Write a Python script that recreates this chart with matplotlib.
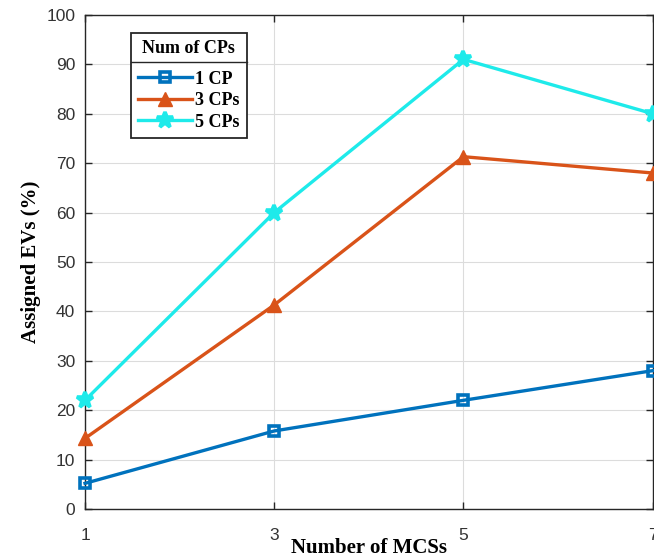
import matplotlib.pyplot as plt
from matplotlib.lines import Line2D

mcs = [1, 3, 5, 7]
cp1 = [5.2, 15.8, 22.0, 28.0]
cp3 = [14.3, 41.3, 71.3, 68.0]
cp5 = [22.0, 60.0, 91.0, 80.0]
labels = ["1 CP", "3 CPs", "5 CPs"]

fig = plt.figure(figsize=(6.54, 5.59), dpi=100)
ax = fig.add_axes([0.13, 0.0894, 0.868, 0.884])

ax.plot(mcs, cp1, color="#0072BD", lw=2.4, marker="s", ms=7, mfc="none", mew=2.6,
        label=labels[0], clip_on=False, zorder=3)
ax.plot(mcs, cp3, color="#D95319", lw=2.4, marker="^", ms=10, mfc="#D95319",
        label=labels[1], clip_on=False, zorder=3)
ax.plot(mcs, cp5, color="#1EEAEA", lw=2.4, marker="*", ms=12, mew=2.6,
        label=labels[2], clip_on=False, zorder=3)

ax.set_xlim(1, 7)
ax.set_ylim(0, 100)
ax.set_xticks(mcs)
ax.set_yticks(range(0, 101, 10))
ax.grid(True, color="#dcdcdc", lw=0.8)
ax.set_axisbelow(True)
ax.tick_params(direction="in", top=True, right=True, length=5, width=1,
               colors="#262626", labelsize=12.5)
ax.tick_params(axis="x", pad=14)
ax.tick_params(axis="y", pad=7)
for s in ax.spines.values():
    s.set_color("#262626")
    s.set_linewidth(1.0)
for t in ax.get_xticklabels() + ax.get_yticklabels():
    t.set_fontfamily("Liberation Sans")
    t.set_color("#333333")

ax.set_xlabel("Number of MCSs", fontfamily="Liberation Serif", fontweight="bold",
              fontsize=15, labelpad=-4)
ax.set_ylabel("Assigned EVs (%)", fontfamily="Liberation Serif", fontweight="bold",
              fontsize=15, labelpad=4)

leg = ax.legend(title="Num of CPs", loc="upper left", bbox_to_anchor=(0.081, 0.964),
                fancybox=False, edgecolor="#262626", framealpha=1,
                prop={"family": "Liberation Serif", "weight": "bold", "size": 13},
                title_fontproperties={"family": "Liberation Serif", "weight": "bold", "size": 13},
                handlelength=3.0, handletextpad=0.15, labelspacing=0.25,
                borderpad=0.4, borderaxespad=0)
leg.get_frame().set_linewidth(1.3)
leg._legend_box.sep = 10

# separator line under the legend title
fig.canvas.draw()
r = fig.canvas.get_renderer()
fb = leg.get_frame().get_window_extent(r)
tb = leg.get_title().get_window_extent(r)
yl = tb.y0 - 5
inv = fig.transFigure.inverted()
x0, y0 = inv.transform((fb.x0, yl))
x1, _ = inv.transform((fb.x1, yl))
fig.add_artist(Line2D([x0, x1], [y0, y0], color="#262626", lw=1.0, transform=fig.transFigure))

fig.savefig("out.png", dpi=100)
